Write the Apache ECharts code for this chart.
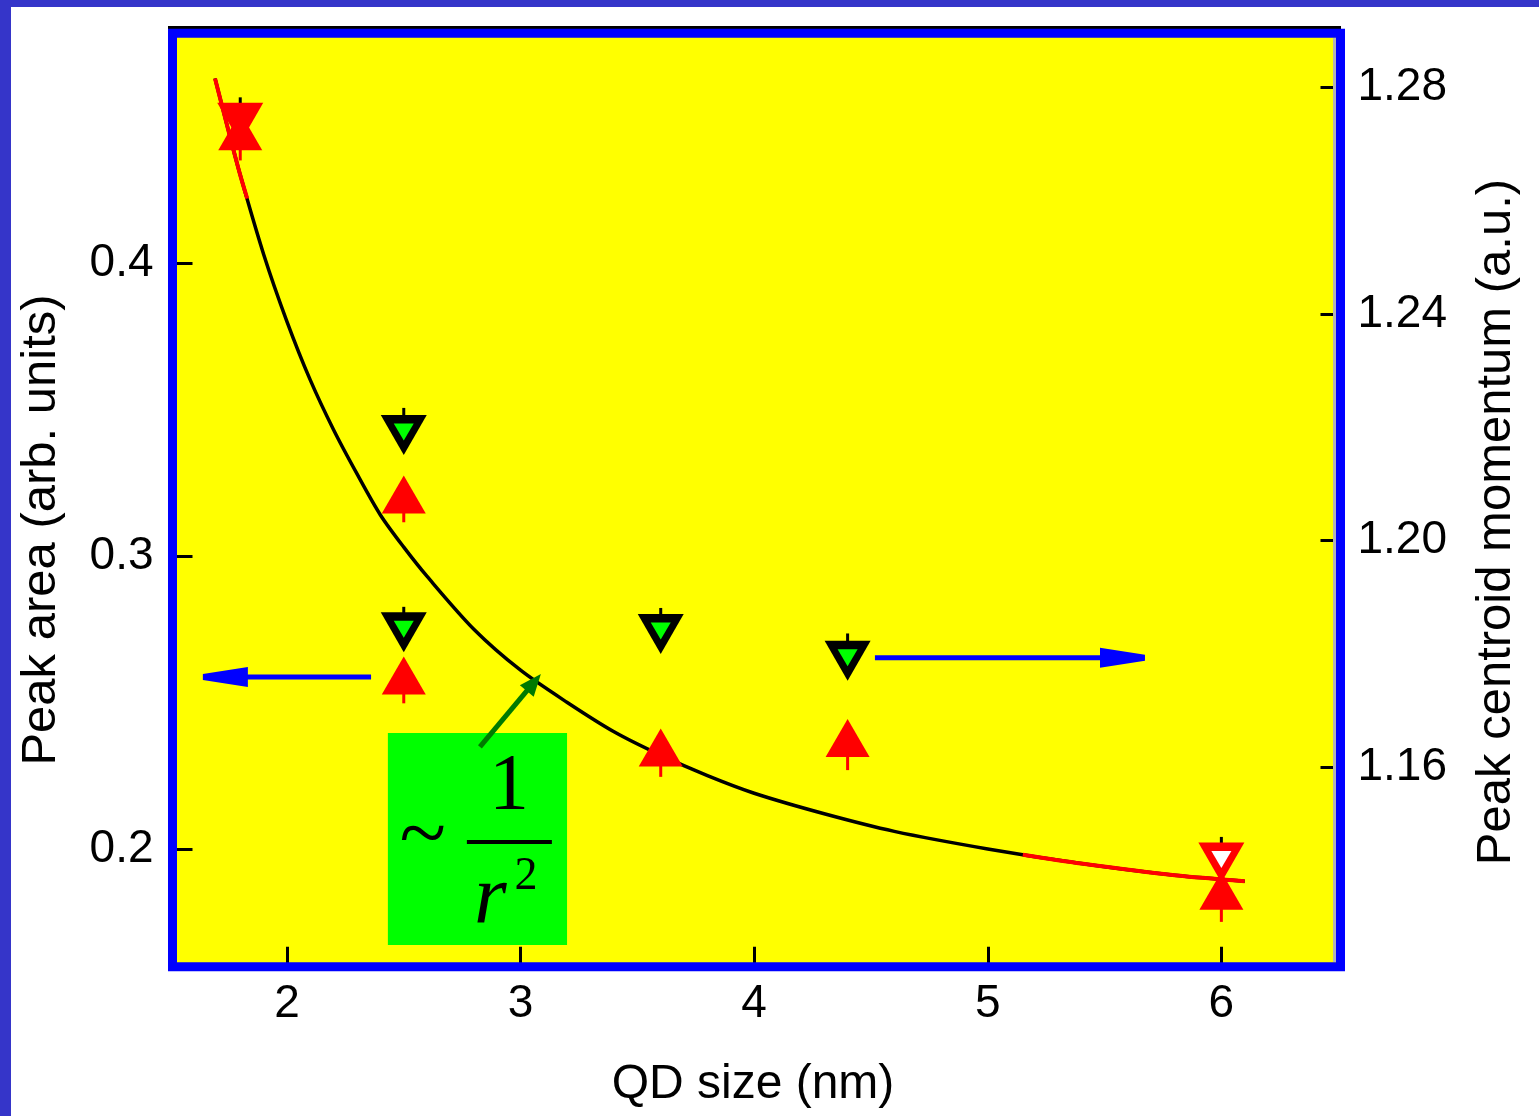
<!DOCTYPE html>
<html>
<head>
<meta charset="utf-8">
<script src="https://cdn.jsdelivr.net/npm/echarts@6/dist/echarts.min.js"></script>
<style>
  html, body { margin: 0; padding: 0; background: #ffffff; }
  #chart { width: 1539px; height: 1116px; }
</style>
</head>
<body>
<div id="chart"></div>
<script>
// Quantum-dot size (nm) of each sample
const qdSize = [1.8, 2.5, 2.5, 3.6, 4.4, 6.0];

// Peak area (arb. units), left axis, red up-triangles, with lower error extent
const peakArea = [0.445, 0.321, 0.2592, 0.2346, 0.2379, 0.1857];
const peakAreaErr = [0.010, 0.0095, 0.0095, 0.010, 0.011, 0.0106];

// Peak centroid momentum (a.u.), right axis, down-triangles, with upper error extent
const centroid = [1.2737, 1.2186, 1.1838, 1.1835, 1.1788, 1.1432];
const centroidErr = [0.0045, 0.0048, 0.0045, 0.0046, 0.0048, 0.0045];

// ~1/r^2 guide curve (peak-area scale)
const guideX = [1.692, 1.75, 1.80, 1.90, 2.00, 2.10, 2.20, 2.30, 2.40, 2.50, 2.60, 2.80, 3.00, 3.20, 3.40, 3.60, 3.80, 4.00, 4.30, 4.60, 5.00, 5.40, 5.80, 6.10];
const guideY = [0.463, 0.445, 0.430, 0.403, 0.380, 0.360, 0.343, 0.328, 0.314, 0.303, 0.293, 0.275, 0.261, 0.250, 0.240, 0.232, 0.225, 0.219, 0.212, 0.206, 0.200, 0.195, 0.191, 0.189];

// stretches of the guide curve drawn in red
const guideRedX = [1.692, 1.75, 1.80, 1.83, null, 5.15, 5.40, 5.80, 6.10];
const guideRedY = [0.463, 0.445, 0.430, 0.422, null, 0.198, 0.195, 0.191, 0.189];

// axis ticks
const xTicks = [2, 3, 4, 5, 6];
const leftTicks = [0.2, 0.3, 0.4];
const rightTicks = [1.16, 1.20, 1.24, 1.28];

// pointer arrows [x1, y1, x2, y2]
const areaArrow = [[2.36, 0.2587, 1.64, 0.2587]];        // towards the left axis
const momentumArrow = [[4.517, 1.1793, 5.673, 1.1793]];   // towards the right axis
const guideArrow = [[2.826, 0.2348, 3.087, 0.2597]];      // from the label to the curve

// label box for the 1/r^2 curve [x1, y1, x2, y2]
const guideBox = [[2.432, 0.2396, 3.199, 0.1672]];

const SANS = "'Liberation Sans', Arial, Helvetica, sans-serif";
const SERIF = "'Liberation Serif', 'Times New Roman', serif";
const GRID = { left: 172.5, top: 33.3, width: 1168, height: 933.4 };

const chart = echarts.init(document.getElementById('chart'), null, { renderer: 'canvas' });

const downTri = 'path://M0,0L10,0L5,9Z';

function errorBars(yAxisIndex, xs, ys, errs, dir, color, z) {
  return {
    type: 'custom', yAxisIndex, z, silent: true,
    encode: { x: 0, y: [1, 2] },
    data: xs.map((x, i) => [x, ys[i], ys[i] + dir * errs[i]]),
    renderItem(params, api) {
      const a = api.coord([api.value(0), api.value(1)]);
      const b = api.coord([api.value(0), api.value(2)]);
      return { type: 'line', shape: { x1: a[0], y1: a[1], x2: b[0], y2: b[1] },
               style: { stroke: color, lineWidth: 3 } };
    }
  };
}

function arrows(yAxisIndex, segs, color, width, headLen, headBase, headTip, z) {
  return {
    type: 'custom', yAxisIndex, z, silent: true,
    encode: { x: [0, 2], y: [1, 3] },
    data: segs,
    renderItem(params, api) {
      const p1 = api.coord([api.value(0), api.value(1)]);
      const p2 = api.coord([api.value(2), api.value(3)]);
      const dx = p2[0] - p1[0], dy = p2[1] - p1[1];
      const len = Math.sqrt(dx * dx + dy * dy);
      const ux = dx / len, uy = dy / len, nx = -uy, ny = ux;
      const bx = p2[0] - ux * headLen, by = p2[1] - uy * headLen;
      return {
        type: 'group',
        children: [
          { type: 'line', shape: { x1: p1[0], y1: p1[1], x2: bx + ux * 2, y2: by + uy * 2 },
            style: { stroke: color, lineWidth: width } },
          { type: 'polygon', shape: { points: [
              [bx + nx * headBase, by + ny * headBase],
              [p2[0] + nx * headTip, p2[1] + ny * headTip],
              [p2[0] - nx * headTip, p2[1] - ny * headTip],
              [bx - nx * headBase, by - ny * headBase]] },
            style: { fill: color } }
        ]
      };
    }
  };
}

const option = {
  backgroundColor: '#ffffff',
  animation: false,
  grid: Object.assign({ show: true, backgroundColor: '#ffff00', borderWidth: 0 }, GRID),
  xAxis: {
    type: 'value', min: 1.51, max: 6.51,
    axisLine: { show: false }, splitLine: { show: false },
    axisTick: { show: true, inside: true, length: 20, customValues: xTicks,
                lineStyle: { color: '#000', width: 3 } },
    axisLabel: { customValues: xTicks, margin: 15, color: '#000',
                 fontFamily: SANS, fontSize: 46, formatter: v => String(v) }
  },
  yAxis: [
    {
      type: 'value', position: 'left', min: 0.1598, max: 0.4784,
      axisLine: { show: false }, splitLine: { show: false },
      axisTick: { show: true, inside: true, length: 20, customValues: leftTicks,
                  lineStyle: { color: '#000', width: 3 } },
      axisLabel: { customValues: leftTicks, margin: 19, color: '#000',
                   fontFamily: SANS, fontSize: 46, formatter: v => v.toFixed(1) }
    },
    {
      type: 'value', position: 'right', min: 1.1248, max: 1.2895,
      axisLine: { show: false }, splitLine: { show: false },
      axisTick: { show: true, inside: true, length: 20, customValues: rightTicks,
                  lineStyle: { color: '#000', width: 3 } },
      axisLabel: { customValues: rightTicks, margin: 17, color: '#000',
                   fontFamily: SANS, fontSize: 46, formatter: v => v.toFixed(2) }
    }
  ],
  series: [
    // green label box with the 1/r^2 formula
    {
      type: 'custom', yAxisIndex: 0, z: 1, silent: true,
      encode: { x: [0, 2], y: [1, 3] },
      data: guideBox,
      renderItem(params, api) {
        const a = api.coord([api.value(0), api.value(1)]);
        const b = api.coord([api.value(2), api.value(3)]);
        const bx = a[0], by = a[1];
        return {
          type: 'group',
          children: [
            { type: 'rect', shape: { x: bx, y: by, width: b[0] - a[0], height: b[1] - a[1] },
              style: { fill: '#00ff00' } },
            { type: 'text', x: bx + 35, y: by + 106,
              style: { text: '~', font: '86px ' + SERIF, fill: '#000', align: 'center', verticalAlign: 'middle' } },
            { type: 'text', x: bx + 121, y: by + 55,
              style: { text: '1', font: '80px ' + SERIF, fill: '#000', align: 'center', verticalAlign: 'middle' } },
            { type: 'line', shape: { x1: bx + 79, y1: by + 109, x2: bx + 164, y2: by + 109 },
              style: { stroke: '#000', lineWidth: 4 } },
            { type: 'text', x: bx + 86, y: by + 168,
              style: { text: 'r', font: 'italic 84px ' + SERIF, fill: '#000', align: 'left', verticalAlign: 'middle' } },
            { type: 'text', x: bx + 138, y: by + 144,
              style: { text: '2', font: '46px ' + SERIF, fill: '#000', align: 'center', verticalAlign: 'middle' } }
          ]
        };
      }
    },
    // guide curve
    {
      type: 'line', yAxisIndex: 0, z: 2, silent: true, smooth: 0.3, showSymbol: false,
      lineStyle: { color: '#000', width: 3.5 },
      data: guideX.map((x, i) => [x, guideY[i]])
    },
    {
      type: 'line', yAxisIndex: 0, z: 3, silent: true, smooth: 0.3, showSymbol: false,
      connectNulls: false,
      lineStyle: { color: '#ff0000', width: 4 },
      data: guideRedX.map((x, i) => x === null ? [guideRedX[i - 1], '-'] : [x, guideRedY[i]])
    },
    errorBars(0, qdSize, peakArea, peakAreaErr, -1, '#ff0000', 4),
    errorBars(1, qdSize, centroid, centroidErr, 1, '#000000', 4),
    // peak area
    {
      type: 'scatter', yAxisIndex: 0, z: 5, silent: true,
      symbol: 'triangle', symbolSize: [44, 38],
      itemStyle: { color: '#ff0000', opacity: 1 },
      data: qdSize.map((x, i) => [x, peakArea[i]])
    },
    // peak centroid momentum: outer triangle
    {
      type: 'scatter', yAxisIndex: 1, z: 6, silent: true,
      symbol: downTri, symbolSize: [46, 40],
      itemStyle: { color: '#000000', opacity: 1 },
      data: qdSize.map((x, i) => {
        const item = { value: [x, centroid[i]] };
        if (i === 0 || i === qdSize.length - 1) item.itemStyle = { color: '#ff0000' };
        return item;
      })
    },
    // peak centroid momentum: inner fill
    {
      type: 'scatter', yAxisIndex: 1, z: 7, silent: true,
      symbol: downTri, symbolSize: [20, 17], symbolOffset: [0, -3],
      itemStyle: { color: '#00ff00', opacity: 1 },
      data: qdSize.map((x, i) => {
        const item = { value: [x, centroid[i]] };
        if (i === 0) item.itemStyle = { color: '#ff0000' };
        if (i === qdSize.length - 1) item.itemStyle = { color: '#ffffff' };
        return item;
      })
    },
    arrows(0, areaArrow, '#0000ff', 5, 45, 10, 3, 8),
    arrows(1, momentumArrow, '#0000ff', 5, 45, 10, 3, 8),
    arrows(0, guideArrow, '#007a00', 5, 22, 9, 0, 8)
  ],
  graphic: [
    { type: 'rect', z: 100, silent: true, shape: { x: 0, y: 0, width: 1539, height: 7 }, style: { fill: '#3535c9' } },
    { type: 'rect', z: 100, silent: true, shape: { x: 0, y: 0, width: 11, height: 1116 }, style: { fill: '#3535c9' } },
    { type: 'rect', z: 100, silent: true, shape: { x: 168, y: 26, width: 1173, height: 3 }, style: { fill: '#000' } },
    { type: 'rect', z: 100, silent: true, shape: { x: GRID.left + GRID.width - 7.5, y: 38, width: 3, height: 924 },
      style: { fill: '#b4b4b4' } },
    { type: 'rect', z: 101, silent: true,
      shape: { x: GRID.left, y: GRID.top, width: GRID.width, height: GRID.height },
      style: { fill: 'none', stroke: '#0000ff', lineWidth: 9 } },
    { type: 'text', z: 100, silent: true, x: 753, y: 1085,
      style: { text: 'QD size (nm)', font: '48px ' + SANS, fill: '#000', align: 'center', verticalAlign: 'middle' } },
    { type: 'text', z: 100, silent: true, x: 41, y: 530, rotation: Math.PI / 2,
      style: { text: 'Peak area (arb. units)', font: '49px ' + SANS, fill: '#000', align: 'center', verticalAlign: 'middle' } },
    { type: 'text', z: 100, silent: true, x: 1496, y: 522, rotation: Math.PI / 2,
      style: { text: 'Peak centroid momentum (a.u.)', font: '49px ' + SANS, fill: '#000', align: 'center', verticalAlign: 'middle' } }
  ]
};

chart.setOption(option);
</script>
</body>
</html>
